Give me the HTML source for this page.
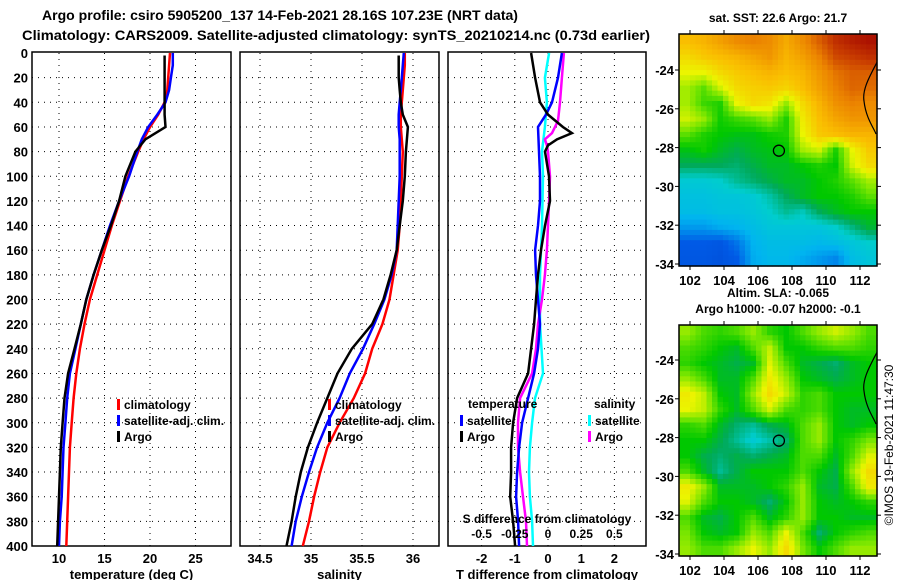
<!DOCTYPE html>
<html><head><meta charset="utf-8"><style>
body{margin:0;background:#fff;}
svg text{font-family:"Liberation Sans",sans-serif;font-weight:bold;fill:#000;}
</style></head><body>
<svg id="fig" width="900" height="580" viewBox="0 0 900 580" xmlns="http://www.w3.org/2000/svg">
<text x="42" y="20" font-size="14" textLength="476" lengthAdjust="spacingAndGlyphs">Argo profile: csiro 5905200_137 14-Feb-2021 28.16S 107.23E (NRT data)</text>
<text x="22" y="40" font-size="14" textLength="628" lengthAdjust="spacingAndGlyphs">Climatology: CARS2009. Satellite-adjusted climatology: synTS_20210214.nc (0.73d earlier)</text>
<g id="plots"></g>
<text transform="translate(893,445) rotate(-90)" text-anchor="middle" font-size="12" style="font-weight:normal">©IMOS 19-Feb-2021 11:47:30</text>
</svg>
<script>
// ---- profile data ----
const depths = [0,10,20,30,40,50,60,70,80,100,120,140,160,180,200,220,240,260,280,300,320,340,360,380,400];
const tempClim = [22.2,22.1,22.0,21.9,21.6,20.9,20.0,19.3,18.7,17.6,16.7,15.8,15.0,14.2,13.4,12.8,12.3,11.9,11.6,11.4,11.2,11.1,11.0,10.9,10.8];
const tempSat  = [22.5,22.5,22.3,22.1,21.7,20.8,19.8,19.1,18.6,17.7,16.6,15.6,14.7,13.8,13.0,12.4,11.8,11.2,10.9,10.7,10.5,10.4,10.3,10.1,10.0];
const tempArgo = [21.6,21.6,21.6,21.6,21.6,21.6,21.7,19.5,18.4,17.3,16.6,15.7,14.7,13.8,13.0,12.4,11.7,11.0,10.6,10.4,10.2,10.1,10.0,9.9,9.8];
const salClim = [35.92,35.92,35.91,35.9,35.89,35.88,35.88,35.89,35.9,35.89,35.88,35.87,35.85,35.81,35.77,35.7,35.6,35.53,35.42,35.28,35.16,35.09,35.03,34.98,34.92];
const salSat  = [35.91,35.9,35.89,35.88,35.87,35.86,35.86,35.87,35.87,35.87,35.86,35.85,35.84,35.79,35.72,35.62,35.51,35.38,35.28,35.16,35.06,34.98,34.91,34.85,34.81];
const salArgo = [35.86,35.86,35.86,35.87,35.88,35.9,35.95,35.94,35.93,35.92,35.9,35.87,35.84,35.78,35.71,35.6,35.4,35.26,35.16,35.06,34.97,34.9,34.85,34.81,34.76];
const dTArgoDepths = [0,20,40,50,60,65,70,75,80,100,120,140,160,180,200,220,240,260,280,300,320,340,360,380,400];
const dTArgo = [-0.51,-0.39,-0.24,0,0.45,0.72,0.27,0,-0.09,0.03,0.06,-0.09,-0.21,-0.3,-0.36,-0.42,-0.51,-0.6,-0.93,-1.05,-1.11,-1.11,-1.14,-1.05,-0.99];
const dTSatDepths = [0,20,40,50,60,80,100,120,140,160,180,200,220,240,260,280,300,320,340,360,380,400];
const dTSat = [0.42,0.3,0.12,-0.06,-0.3,-0.27,-0.24,-0.24,-0.3,-0.39,-0.36,-0.3,-0.24,-0.3,-0.42,-0.6,-0.78,-0.87,-0.93,-0.96,-0.9,-0.87];
const dSSatDepths = [0,20,40,60,80,100,140,180,220,260,280,300,320,340,360,380,400];
const dSSat = [0.008,-0.023,-0.008,-0.023,-0.045,-0.038,-0.045,-0.06,-0.06,-0.038,-0.098,-0.12,-0.136,-0.143,-0.136,-0.12,-0.113];
const dSArgoDepths = [0,20,40,55,65,70,75,80,100,120,140,160,180,200,220,240,260,280,300,320,340,360,380,400];
const dSArgo = [0.12,0.105,0.09,0.075,0.03,-0.023,-0.008,0,0.015,0.008,0,-0.008,-0.023,-0.045,-0.075,-0.09,-0.12,-0.21,-0.226,-0.226,-0.21,-0.188,-0.166,-0.158];
const depthTicks = [0,20,40,60,80,100,120,140,160,180,200,220,240,260,280,300,320,340,360,380,400];
const tempTicks = [10,15,20,25];
const salTicks = [34.5,35,35.5,36];
const dTTicks = [-2,-1,0,1,2];
const dSTickLabels = ["-0.5","-0.25","0","0.25","0.5"];
const dSTicks = [-0.5,-0.25,0,0.25,0.5];
// ---- map data (colour index 0..1) ----
const sstGrid = [
[0.68,0.7,0.74,0.78,0.8,0.78,0.72,0.78,0.85,0.92,0.95,0.97],
[0.63,0.66,0.68,0.7,0.73,0.76,0.7,0.74,0.8,0.88,0.9,0.92],
[0.58,0.58,0.63,0.66,0.68,0.7,0.68,0.7,0.76,0.82,0.85,0.85],
[0.53,0.48,0.56,0.63,0.65,0.66,0.64,0.68,0.74,0.8,0.84,0.83],
[0.53,0.46,0.44,0.58,0.63,0.61,0.52,0.63,0.7,0.77,0.8,0.78],
[0.56,0.52,0.43,0.46,0.48,0.52,0.44,0.6,0.68,0.73,0.76,0.76],
[0.48,0.44,0.42,0.41,0.41,0.43,0.44,0.58,0.66,0.68,0.7,0.7],
[0.41,0.43,0.4,0.38,0.4,0.41,0.42,0.53,0.56,0.44,0.58,0.66],
[0.37,0.37,0.37,0.36,0.38,0.4,0.4,0.42,0.44,0.42,0.56,0.63],
[0.3,0.3,0.31,0.34,0.36,0.38,0.4,0.4,0.42,0.44,0.48,0.53],
[0.28,0.28,0.29,0.29,0.3,0.33,0.37,0.4,0.42,0.42,0.44,0.48],
[0.27,0.27,0.28,0.28,0.29,0.31,0.34,0.32,0.37,0.4,0.42,0.42],
[0.22,0.22,0.24,0.25,0.27,0.29,0.29,0.29,0.29,0.31,0.35,0.39],
[0.15,0.15,0.14,0.18,0.25,0.27,0.27,0.27,0.26,0.27,0.29,0.31],
[0.14,0.14,0.13,0.15,0.24,0.26,0.26,0.24,0.22,0.2,0.27,0.29]];
const slaGrid = [
[0.52,0.47,0.45,0.47,0.52,0.45,0.42,0.47,0.52,0.56,0.52,0.47],
[0.47,0.45,0.42,0.4,0.47,0.55,0.42,0.42,0.45,0.47,0.47,0.45],
[0.45,0.42,0.4,0.38,0.4,0.57,0.47,0.4,0.38,0.36,0.4,0.42],
[0.52,0.47,0.4,0.4,0.47,0.6,0.52,0.42,0.4,0.38,0.4,0.42],
[0.6,0.55,0.42,0.4,0.52,0.63,0.55,0.45,0.47,0.42,0.42,0.42],
[0.58,0.55,0.45,0.4,0.47,0.56,0.47,0.45,0.47,0.42,0.4,0.4],
[0.45,0.47,0.4,0.36,0.34,0.38,0.4,0.47,0.52,0.42,0.4,0.42],
[0.42,0.42,0.38,0.34,0.3,0.33,0.36,0.47,0.52,0.42,0.45,0.5],
[0.42,0.38,0.36,0.38,0.36,0.38,0.4,0.47,0.47,0.4,0.47,0.57],
[0.47,0.4,0.34,0.38,0.42,0.42,0.42,0.47,0.42,0.38,0.52,0.63],
[0.6,0.52,0.4,0.4,0.4,0.42,0.45,0.52,0.4,0.38,0.47,0.6],
[0.57,0.47,0.42,0.42,0.4,0.36,0.42,0.52,0.42,0.4,0.42,0.45],
[0.47,0.4,0.38,0.42,0.47,0.4,0.45,0.52,0.42,0.42,0.4,0.4],
[0.5,0.42,0.4,0.42,0.52,0.47,0.58,0.47,0.36,0.42,0.45,0.47],
[0.52,0.47,0.47,0.52,0.58,0.52,0.63,0.5,0.42,0.47,0.52,0.52]];
const lonTicks = [102,104,106,108,110,112];
const latTicks = [-24,-26,-28,-30,-32,-34];
const argoLon = 107.23, argoLat = -28.16;

const NS="http://www.w3.org/2000/svg";
const root=document.getElementById('plots');
function mk(tag,attrs,parent){const e=document.createElementNS(NS,tag);for(const k in attrs)e.setAttribute(k,attrs[k]);(parent||root).appendChild(e);return e;}
function txt(s,x,y,anchor,size,parent){const t=mk('text',{x:x,y:y,'text-anchor':anchor||'start','font-size':size||12},parent);t.textContent=s;return t;}

const PT=53, PB=546;
const yD = d => PT + d*(PB-PT)/400;
function panel(name,x0,x1,xScale,xTicks,xLabels,xTitle,showDepth){
  const g=mk('g',{});
  
  
  depthTicks.forEach(d=>{ if(d>0&&d<400){const l=mk('line',{x1:x0,x2:x1,y1:yD(d),y2:yD(d),stroke:'#000','stroke-width':1,'stroke-dasharray':'1,5'},g);
    
    }
    if(showDepth){const t=txt(String(d),28,yD(d)+5,'end',13,g);
      
      }
  });
  xTicks.forEach((v,i)=>{const x=xScale(v);
    const l=mk('line',{x1:x,x2:x,y1:PT,y2:PB,stroke:'#000','stroke-width':1,'stroke-dasharray':'1,5'},g);
    
    
    const t=txt(xLabels[i],x,563,'middle',13,g);
    
    
  });
  const f=mk('rect',{x:x0,y:PT-1,width:x1-x0,height:PB-PT+1,fill:'none',stroke:'#000','stroke-width':1.5},g);
  
  
  const t=txt(xTitle,(x0+x1)/2,579,'middle',13,g);
  
  
  return g;
}
function line(g,name,xs,ds,xScale,color){
  const pts=xs.map((v,i)=>xScale(v).toFixed(1)+','+yD(ds[i]).toFixed(1)).join(' ');
  const p=mk('polyline',{points:pts,fill:'none',stroke:color,'stroke-width':2.5},g);
  
  
}
function legend(g,x,y,color,label,name){
  const r=mk('rect',{x:x,y:y-10,width:3,height:11,fill:color},g);
  
  
  const t=txt(label,x+7,y,'start',12,g);
  
  
}
const xT = v => 59 + (v-10)*9.1;
const g1=panel('temperature-panel',32,231,xT,tempTicks,tempTicks.map(String),'temperature (deg C)',true);
line(g1,'temperature-climatology-line',tempClim,depths,xT,'#ff0000');
line(g1,'temperature-satellite-line',tempSat,depths,xT,'#0000ff');
line(g1,'temperature-argo-line',tempArgo,depths.map((d,i)=>i==0?2:d),xT,'#000');
legend(g1,117,409,'#ff0000','climatology','legend-climatology');
legend(g1,117,425,'#0000ff','satellite-adj. clim.','legend-satellite');
legend(g1,117,441,'#000','Argo','legend-argo');
const xS = v => 311 + (v-35)*102;
const g2=panel('salinity-panel',240,439,xS,salTicks,salTicks.map(String),'salinity',false);
line(g2,'salinity-climatology-line',salClim,depths,xS,'#ff0000');
line(g2,'salinity-satellite-line',salSat,depths,xS,'#0000ff');
line(g2,'salinity-argo-line',salArgo,depths.map((d,i)=>i==0?2:d),xS,'#000');
legend(g2,328,409,'#ff0000','climatology','legend-climatology');
legend(g2,328,425,'#0000ff','satellite-adj. clim.','legend-satellite');
legend(g2,328,441,'#000','Argo','legend-argo');
const xDT = v => 548 + v*33.2;
const xDS = v => 548 + v*4*33.2;
const g3=panel('difference-panel',448,646,xDT,dTTicks,dTTicks.map(String),'T difference from climatology',false);
line(g3,'salinity-satellite-diff-line',dSSat,dSSatDepths,xDS,'#00ffff');
line(g3,'salinity-argo-diff-line',dSArgo,dSArgoDepths,xDS,'#ff00ff');
line(g3,'temperature-satellite-diff-line',dTSat,dTSatDepths,xDT,'#0000ff');
line(g3,'temperature-argo-diff-line',dTArgo,dTArgoDepths,xDT,'#000');
{const t=txt('temperature',468,408,'start',12,g3);
 const s=txt('salinity',594,408,'start',12,g3);}
legend(g3,460,425,'#0000ff','satellite','legend-t-satellite');
legend(g3,460,441,'#000','Argo','legend-t-argo');
legend(g3,588,425,'#00ffff','satellite','legend-s-satellite');
legend(g3,588,441,'#ff00ff','Argo','legend-s-argo');
{const t=txt('S difference from climatology',547,523,'middle',12,g3);}
dSTicks.forEach((v,i)=>{const t=txt(dSTickLabels[i],xDS(v),538,'middle',12,g3);
  
  });

// maps
const cstops=[[0,[0,40,170]],[0.15,[0,90,230]],[0.25,[0,180,240]],[0.31,[0,205,205]],[0.37,[0,170,90]],[0.42,[0,200,0]],[0.5,[120,230,0]],[0.58,[235,245,0]],[0.68,[250,190,0]],[0.8,[235,130,0]],[0.9,[200,60,0]],[1,[160,0,0]]];
function cmap(v){for(let i=1;i<cstops.length;i++){if(v<=cstops[i][0]){const a=cstops[i-1],b=cstops[i];const f=(v-a[0])/(b[0]-a[0]);
  return 'rgb('+a[1].map((c,k)=>Math.round(c+(b[1][k]-c)*f)).join(',')+')';}}return 'rgb(160,0,0)';}
function sample(grid,fr,fc){const nr=grid.length,nc=grid[0].length;
  const r=Math.max(0,Math.min(nr-1,fr)),c=Math.max(0,Math.min(nc-1,fc));
  const r0=Math.floor(r),c0=Math.floor(c),r1=Math.min(nr-1,r0+1),c1=Math.min(nc-1,c0+1);const a=r-r0,b=c-c0;
  return grid[r0][c0]*(1-a)*(1-b)+grid[r0][c1]*(1-a)*b+grid[r1][c0]*a*(1-b)+grid[r1][c1]*a*b;}
function map(name,grid,top,bottom,lat24y,lat34y){
  const L=679,R=877,SUB=3;
  const g=mk('g',{});
  
  
  const lonX=v=>690+(v-102)*17;
  const latY=v=>lat24y+(-24-v)*(lat34y-lat24y)/10;
  const nr=grid.length*SUB,nc=grid[0].length*SUB;
  const cw=(R-L)/nc,ch=(bottom-top)/nr;
  for(let r=0;r<nr;r++)for(let c=0;c<nc;c++){
    const v=sample(grid,(r+0.5)/SUB-0.5,(c+0.5)/SUB-0.5);
    const cell=mk('rect',{x:(L+c*cw).toFixed(2),y:(top+r*ch).toFixed(2),width:(cw+0.6).toFixed(2),height:(ch+0.6).toFixed(2),fill:cmap(v)},g);
    
    
  }
  const coast=mk('path',{d:`M877,${latY(-23.6)} C870,${latY(-24.3)} 862,${latY(-25)} 864,${latY(-25.6)} C866,${latY(-26.5)} 874,${latY(-27)} 876,${latY(-27.3)}`,fill:'none',stroke:'#000','stroke-width':1.2},g);
  
  
  const fr=mk('rect',{x:L,y:top,width:R-L,height:bottom-top,fill:'none',stroke:'#000','stroke-width':1.5},g);
  
  
  lonTicks.forEach(v=>{mk('line',{x1:lonX(v),x2:lonX(v),y1:top-4,y2:top,stroke:'#000'},g);mk('line',{x1:lonX(v),x2:lonX(v),y1:bottom,y2:bottom+4,stroke:'#000'},g);
    const t=txt(String(v),lonX(v),bottom+19,'middle',13,g);
    
    });
  latTicks.forEach(v=>{mk('line',{x1:L-4,x2:L,y1:latY(v),y2:latY(v),stroke:'#000'},g);mk('line',{x1:R,x2:R+4,y1:latY(v),y2:latY(v),stroke:'#000'},g);
    const t=txt(String(v),674,latY(v)+5,'end',13,g);
    
    });
  const c=mk('circle',{cx:lonX(argoLon),cy:latY(argoLat),r:5.5,fill:'none',stroke:'#000','stroke-width':1.3},g);
  
  
}
map('sst-map',sstGrid,34,266,70,264);
map('sla-map',slaGrid,325,556,360,554);
[['sat. SST: 22.6 Argo: 21.7',22,'sst-map-title'],['Altim. SLA: -0.065',297,'sla-map-title'],['Argo h1000: -0.07 h2000: -0.1',313,'argo-height-title']].forEach(a=>{
  const t=txt(a[0],778,a[1],'middle',12);
  
  });
</script>
</body></html>
